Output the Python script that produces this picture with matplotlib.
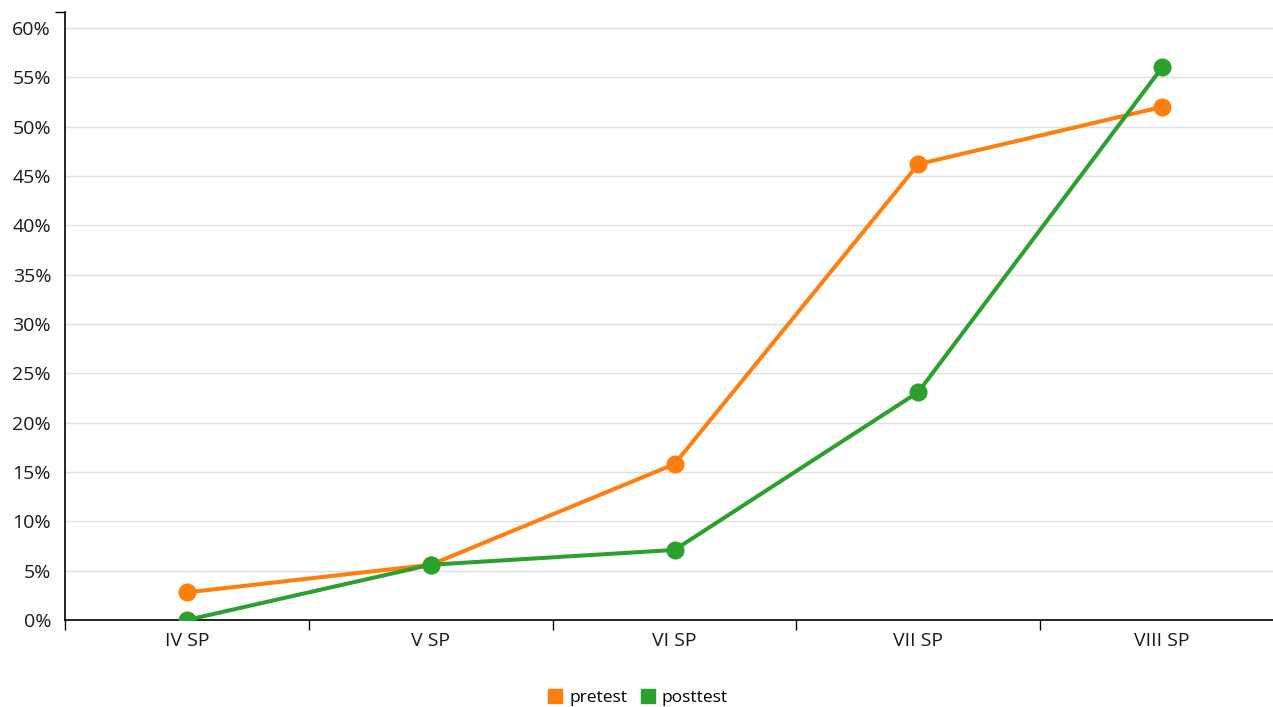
import matplotlib.pyplot as plt
from matplotlib.lines import Line2D
import numpy as np

plt.rcParams['font.family'] = ['Open Sans', 'DejaVu Sans']

# data
categories = ['IV SP', 'V SP', 'VI SP', 'VII SP', 'VIII SP']
pretest = [2.8, 5.6, 15.8, 46.2, 52.0]
posttest = [0.0, 5.6, 7.1, 23.1, 56.0]
yticks = [0, 5, 10, 15, 20, 25, 30, 35, 40, 45, 50, 55, 60]

c_pre = '#ff7f0e'
c_post = '#2ca02c'

fig = plt.figure(figsize=(12.73, 7.07), dpi=100)
# plot area runs slightly past the right edge of the figure
ax = fig.add_axes([65 / 1273, 1 - 620 / 707, (1284 - 65) / 1273, (620 - 12) / 707])

x = np.arange(len(categories))
ax.plot(x, pretest, color=c_pre, lw=2.9, marker='o', ms=12, zorder=3)
ax.plot(x, posttest, color=c_post, lw=2.9, marker='o', ms=12, zorder=4)

ax.set_xlim(-0.5, len(categories) - 0.5)
ax.set_ylim(0, 61.62)

ax.set_yticks(yticks)
ax.set_yticklabels([f'{v}%' for v in yticks])
ax.set_xticks(x)
ax.set_xticklabels(categories)
ax.tick_params(axis='both', which='major', length=0, labelsize=14, colors='#1a1a1a')
ax.tick_params(axis='y', pad=10)
ax.tick_params(axis='x', pad=9)

# small tick marks at category boundaries and ends of y axis
ax.set_xticks(np.arange(-0.5, len(categories) - 0.5), minor=True)
ax.set_yticks([0, 61.62], minor=True)
ax.tick_params(which='minor', length=7, width=1, color='black')

ax.grid(axis='y', color='#e0e0e0', lw=1)
ax.set_axisbelow(True)
for s in ['top', 'right']:
    ax.spines[s].set_visible(False)
for s in ['left', 'bottom']:
    ax.spines[s].set_linewidth(1.2)

handles = [Line2D([], [], ls='none', marker='s', ms=10.5, color=c_pre),
           Line2D([], [], ls='none', marker='s', ms=10.5, color=c_post)]
fig.legend(handles, ['pretest', 'posttest'], loc='center', bbox_to_anchor=(0.5, 1 - 698 / 707),
           ncol=2, frameon=False, fontsize=12.5, handletextpad=0.2, columnspacing=0.6,
           handlelength=1.2)

fig.savefig('out.png', dpi=100)
